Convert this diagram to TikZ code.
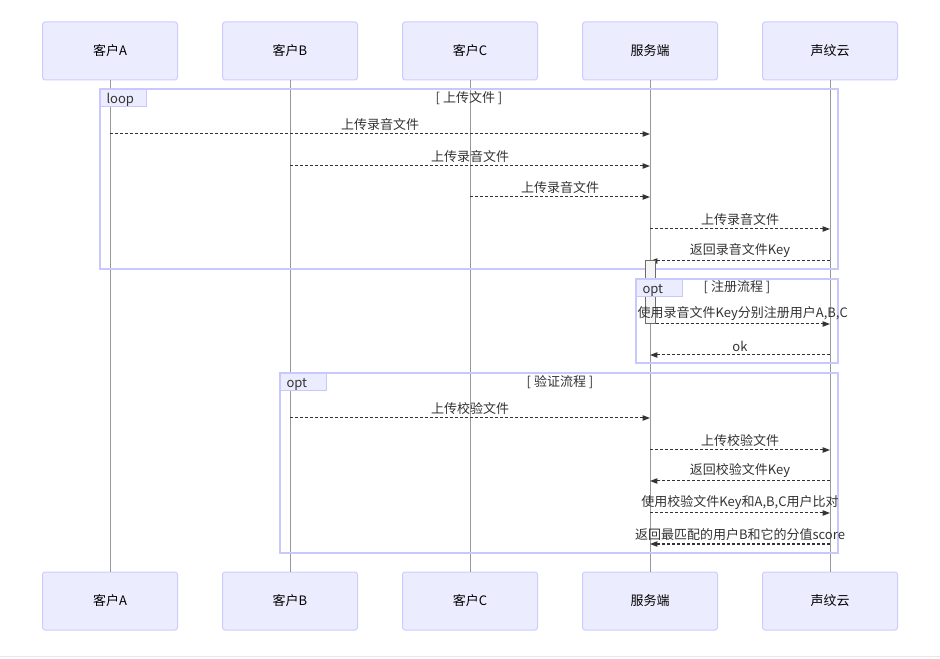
\documentclass[tikz,border=0pt]{standalone}
\usepackage{fontspec}
\setmainfont{Noto Sans CJK SC}
\usepackage{xcolor}
\usetikzlibrary{arrows.meta, positioning}

\definecolor{actfill}{HTML}{ECECFF}
\definecolor{actline}{HTML}{CCCCFF}
\definecolor{framecol}{HTML}{C8C8FF}
\definecolor{lifegray}{HTML}{999999}
\definecolor{msgtext}{HTML}{333333}

\begin{document}
\begin{tikzpicture}[
  x=0.75pt, y=-0.75pt,
  actor/.style={draw=actline, fill=actfill, rounded corners=2pt, line width=0.75pt,
    minimum width=101.25pt, minimum height=43.5pt, font=\fontsize{9.75}{11}\selectfont},
  lifeline/.style={draw=lifegray, line width=0.75pt},
  msg/.style={draw=msgtext, line width=0.75pt, dash pattern=on 2.25pt off 1.5pt,
    -{Triangle[length=5.5pt, width=4pt]}},
  lbl/.style={text=msgtext, font=\fontsize{9.75}{11}\selectfont, inner sep=0pt},
  frame/.style={draw=framecol, line width=1.3pt},
  framelabel/.style={draw=framecol, fill=actfill, line width=0.75pt, text=msgtext,
    text width=25.5pt, align=left, inner xsep=4.5pt, inner ysep=0pt,
    text height=9pt, text depth=0pt,
    minimum height=12.75pt, font=\fontsize{9.75}{11}\selectfont},
  actbox/.style={draw=lifegray!70!black, fill=gray!8, line width=0.75pt}
]
\useasboundingbox (0,0) rectangle (940,659);

% actors, top and bottom
\node[actor] (cliA) at (110,51) {客户A};
\node[actor] (cliB) at (290,51) {客户B};
\node[actor] (cliC) at (470,51) {客户C};
\node[actor] (srv) at (650,51) {服务端};
\node[actor] (cloud) at (830,51) {声纹云};
\node[actor] (cliAbot) at (110,601) {客户A};
\node[actor] (cliBbot) at (290,601) {客户B};
\node[actor] (cliCbot) at (470,601) {客户C};
\node[actor] (srvbot) at (650,601) {服务端};
\node[actor] (cloudbot) at (830,601) {声纹云};

% lifelines
\draw[lifeline] (cliA) -- (cliAbot);
\draw[lifeline] (cliB) -- (cliBbot);
\draw[lifeline] (cliC) -- (cliCbot);
\draw[lifeline] (srv) -- (srvbot);
\draw[lifeline] (cloud) -- (cloudbot);

% loop: upload
\draw[frame] (100,89) rectangle (838,269);
\node[framelabel, anchor=north west] (looplbl) at (100,89) {loop};
\node[lbl] (looptitle) at (469,98) {[ 上传文件 ]};

\draw[msg] (cliA |- 0,134) -- node[lbl, above=2pt] {上传录音文件} (srv |- 0,134);
\draw[msg] (cliB |- 0,166) -- node[lbl, above=2pt] {上传录音文件} (srv |- 0,166);
\draw[msg] (cliC |- 0,197) -- node[lbl, above=2pt] {上传录音文件} (srv |- 0,197);
\draw[msg] (srv |- 0,229) -- node[lbl, above=2pt] {上传录音文件} (cloud |- 0,229);
\draw[msg] (cloud |- 0,261) -- node[lbl, above=2pt] {返回录音文件Key} (srv |- 0,261);

% activation on server
\node[actbox, minimum width=7.5pt, minimum height=47.25pt, inner sep=0pt] (srvact) at (650,292.5) {};

% opt: register
\draw[frame] (636,279) rectangle (838,363);
\node[framelabel, anchor=north west] (optlbl1) at (636,279) {opt};
\node[lbl] (opttitle1) at (737,287) {[ 注册流程 ]};

\draw[msg] (srvact.east |- 0,324) -- node[lbl, above=2pt] {使用录音文件Key分别注册用户A,B,C} (cloud |- 0,324);
\draw[msg] (cloud |- 0,355) -- node[lbl, above=2pt] {ok} (srv |- 0,355);

% opt: verify
\draw[frame] (280,373) rectangle (838,553);
\node[framelabel, anchor=north west] (optlbl2) at (280,373) {opt};
\node[lbl] (opttitle2) at (560,382) {[ 验证流程 ]};

\draw[msg] (cliB |- 0,418) -- node[lbl, above=2pt] {上传校验文件} (srv |- 0,418);
\draw[msg] (srv |- 0,450) -- node[lbl, above=2pt] {上传校验文件} (cloud |- 0,450);
\draw[msg] (cloud |- 0,481) -- node[lbl, above=2pt] {返回校验文件Key} (srv |- 0,481);
\draw[msg] (srv |- 0,513) -- node[lbl, above=2pt] {使用校验文件Key和A,B,C用户比对} (cloud |- 0,513);
\draw[msg] (cloud |- 0,544) -- node[lbl, above=2pt] {返回最匹配的用户B和它的分值score} (srv |- 0,544);

% page edge
\draw[draw=gray!18, line width=0.75pt] (0,656.5) -- (940,656.5);
\end{tikzpicture}
\end{document}
